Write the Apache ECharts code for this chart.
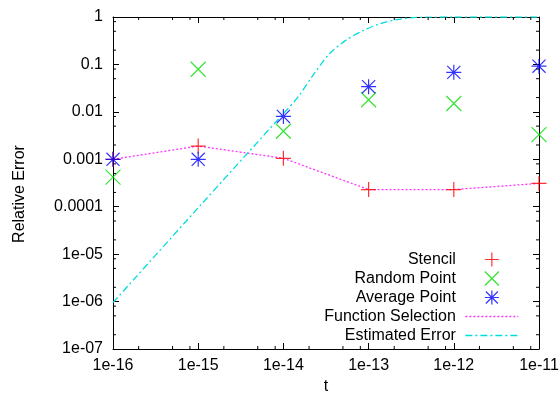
<!DOCTYPE html>
<html><head><meta charset="utf-8">
<script src="https://cdn.jsdelivr.net/npm/echarts@6/dist/echarts.min.js"></script>
<style>html,body{margin:0;padding:0;background:#fff}#c{width:560px;height:393px}</style>
</head><body><div id="c"></div>
<script>
// ---- data ----
const tValues = [1e-16, 1e-15, 1e-14, 1e-13, 1e-12, 1e-11];
const stencil = [0.001, 0.0019, 0.00105, 0.00023, 0.00023, 0.00031];
const randomPoint = [0.00042, 0.079, 0.0039, 0.018, 0.015, 0.0033];
const averagePoint = [0.001, 0.001, 0.008, 0.034, 0.068, 0.092];
const functionSelection = [0.001, 0.0019, 0.00105, 0.00023, 0.00023, 0.00031];
const estT = [1e-16, 1e-15, 1e-14, 1.5e-14, 2.24e-14, 3.5e-14, 5.5e-14, 8.7e-14, 1.36e-13, 2.14e-13, 3.35e-13, 5.25e-13, 1e-12, 1e-11];
const estErr = [9.5e-7, 9.5e-5, 0.0092, 0.021, 0.06, 0.17, 0.33, 0.52, 0.72, 0.88, 0.97, 0.995, 1, 1];
const xTickLabels = ['1e-16', '1e-15', '1e-14', '1e-13', '1e-12', '1e-11'];
const yTickLabels = ['1e-07', '1e-06', '1e-05', '0.0001', '0.001', '0.01', '0.1', '1'];
const xMinorTicks = [2e-16,5e-16,8e-16,2e-15,5e-15,8e-15,2e-14,5e-14,8e-14,2e-13,5e-13,8e-13,2e-12,5e-12,8e-12];
const yMinorTicks = [2e-7,5e-7,8e-7,2e-6,5e-6,8e-6,2e-5,5e-5,8e-5,2e-4,5e-4,8e-4,2e-3,5e-3,8e-3,2e-2,5e-2,8e-2,0.2,0.5,0.8];

const X_MIN = 1e-16, X_MAX = 1e-11, Y_MIN = 1e-7, Y_MAX = 1;
const FONT = "'Liberation Sans', Arial, Helvetica, sans-serif";

const zip = (a, b) => a.map((v, i) => [v, b[i]]);

const PLUS = 'path://M0,8 L16,8 M8,0 L8,16';
const CROSS = 'path://M0,0 L16,16 M16,0 L0,16';
const STAR = 'path://M0,8 L16,8 M8,0 L8,16 M1,1 L15,15 M15,1 L1,15';
const L_PLUS = 'path://M0,0 M53,14 M19.5,7 L33.5,7 M26.5,0 L26.5,14';
const L_CROSS = 'path://M0,0 M53,14 M19.5,0 L33.5,14 M33.5,0 L19.5,14';
const L_STAR = 'path://M0,0 M53,14 M19.5,7 L33.5,7 M26.5,0 L26.5,14 M20.5,1 L32.5,13 M32.5,1 L20.5,13';
const L_LINE = 'path://M0,0 M53,14 M0,7 L53,7';

const RED = '#ff0000', GREEN = '#00dd00', BLUE = '#0000ff', MAG = '#ff33ff', CYAN = '#00dddd';
const DOT = [2, 2], DASHDOT = [7, 3, 2, 3];

function scatterSeries(name, data, symbol, color) {
  return {
    name, type: 'scatter', data: zip(tValues, data), symbol, symbolSize: 15,
    symbolKeepAspect: true, silent: true,
    itemStyle: { color: 'rgba(0,0,0,0)', borderColor: color, borderWidth: 1.2 },
    emphasis: { disabled: true }, z: 5
  };
}

const axisCommon = {
  axisLine: { show: true, onZero: false, lineStyle: { color: '#000', width: 1 } },
  axisTick: { show: true, inside: true, length: 6, lineStyle: { color: '#000' } },
  splitLine: { show: false },
  minorTick: { show: false }
};

const chart = echarts.init(document.getElementById('c'), null, { renderer: 'canvas' });
chart.setOption({
  animation: false,
  backgroundColor: '#fff',
  textStyle: { fontFamily: FONT },
  grid: { left: 113, right: 21, top: 17, bottom: 44, containLabel: false, outerBoundsMode: 'none' },
  xAxis: [
    Object.assign({}, axisCommon, {
      type: 'log', logBase: 10, min: X_MIN, max: X_MAX, splitNumber: 5, position: 'bottom',
      name: 't', nameLocation: 'middle', nameGap: 27,
      nameTextStyle: { fontSize: 16, color: '#000', fontFamily: FONT },
      axisLabel: { fontSize: 16, color: '#000', fontFamily: FONT, margin: 9,
        formatter: v => xTickLabels[Math.round(Math.log10(v)) + 16] }
    }),
    Object.assign({}, axisCommon, {
      type: 'log', logBase: 10, min: X_MIN, max: X_MAX, splitNumber: 5, position: 'top',
      axisLabel: { show: false }
    })
  ],
  yAxis: [
    Object.assign({}, axisCommon, {
      type: 'log', logBase: 10, min: Y_MIN, max: Y_MAX, splitNumber: 7, position: 'left',
      name: 'Relative Error', nameLocation: 'middle', nameGap: 85, nameRotate: 90,
      nameTextStyle: { fontSize: 16, color: '#000', fontFamily: FONT, padding: [0, 22, 0, 0] },
      axisLabel: { fontSize: 16, color: '#000', fontFamily: FONT, margin: 10,
        formatter: v => yTickLabels[Math.round(Math.log10(v)) + 7] }
    }),
    Object.assign({}, axisCommon, {
      type: 'log', logBase: 10, min: Y_MIN, max: Y_MAX, splitNumber: 7, position: 'right',
      axisLabel: { show: false }
    })
  ],
  legend: {
    orient: 'vertical', align: 'right', right: 41, top: 250, padding: 0,
    itemWidth: 53, itemHeight: 14, itemGap: 0, selectedMode: false,
    formatter: n => n + ' ',
    textStyle: { fontSize: 16, color: '#000', fontFamily: FONT, lineHeight: 19 },
    data: [
      { name: 'Stencil', icon: L_PLUS, itemStyle: { color: 'rgba(0,0,0,0)', borderColor: RED, borderWidth: 1.2 } },
      { name: 'Random Point', icon: L_CROSS, itemStyle: { color: 'rgba(0,0,0,0)', borderColor: GREEN, borderWidth: 1.2 } },
      { name: 'Average Point', icon: L_STAR, itemStyle: { color: 'rgba(0,0,0,0)', borderColor: BLUE, borderWidth: 1.2 } },
      { name: 'Function Selection', icon: L_LINE, itemStyle: { color: 'rgba(0,0,0,0)', borderColor: MAG, borderWidth: 1.3, borderType: DOT } },
      { name: 'Estimated Error', icon: L_LINE, itemStyle: { color: 'rgba(0,0,0,0)', borderColor: CYAN, borderWidth: 1.3, borderType: DASHDOT } }
    ]
  },
  series: [
    scatterSeries('Stencil', stencil, PLUS, RED),
    scatterSeries('Random Point', randomPoint, CROSS, GREEN),
    scatterSeries('Average Point', averagePoint, STAR, BLUE),
    {
      name: 'Function Selection', type: 'line', data: zip(tValues, functionSelection),
      symbol: 'none', silent: true, z: 3,
      lineStyle: { color: MAG, width: 1.3, type: DOT }, itemStyle: { color: MAG }
    },
    {
      name: 'Estimated Error', type: 'line', data: zip(estT, estErr), smooth: 0.3,
      symbol: 'none', silent: true, z: 3,
      lineStyle: { color: CYAN, width: 1.3, type: DASHDOT }, itemStyle: { color: CYAN }
    },
    {
      type: 'custom', silent: true, z: 6, clip: false,
      data: xMinorTicks.map(v => [v, Y_MIN]),
      renderItem: (params, api) => {
        const v = api.value(0);
        const b = api.coord([v, Y_MIN]);
        const t = api.coord([v, Y_MAX]);
        const st = { stroke: '#000', lineWidth: 1 };
        return { type: 'group', children: [
          { type: 'line', shape: { x1: b[0], y1: b[1], x2: b[0], y2: b[1] - 3 }, style: st },
          { type: 'line', shape: { x1: t[0], y1: t[1], x2: t[0], y2: t[1] + 3 }, style: st }
        ]};
      }
    },
    {
      type: 'custom', silent: true, z: 6, clip: false,
      data: yMinorTicks.map(v => [X_MIN, v]),
      renderItem: (params, api) => {
        const v = api.value(1);
        const l = api.coord([X_MIN, v]);
        const r = api.coord([X_MAX, v]);
        const st = { stroke: '#000', lineWidth: 1 };
        return { type: 'group', children: [
          { type: 'line', shape: { x1: l[0], y1: l[1], x2: l[0] + 3, y2: l[1] }, style: st },
          { type: 'line', shape: { x1: r[0], y1: r[1], x2: r[0] - 3, y2: r[1] }, style: st }
        ]};
      }
    }
  ]
});
</script>
</body></html>
